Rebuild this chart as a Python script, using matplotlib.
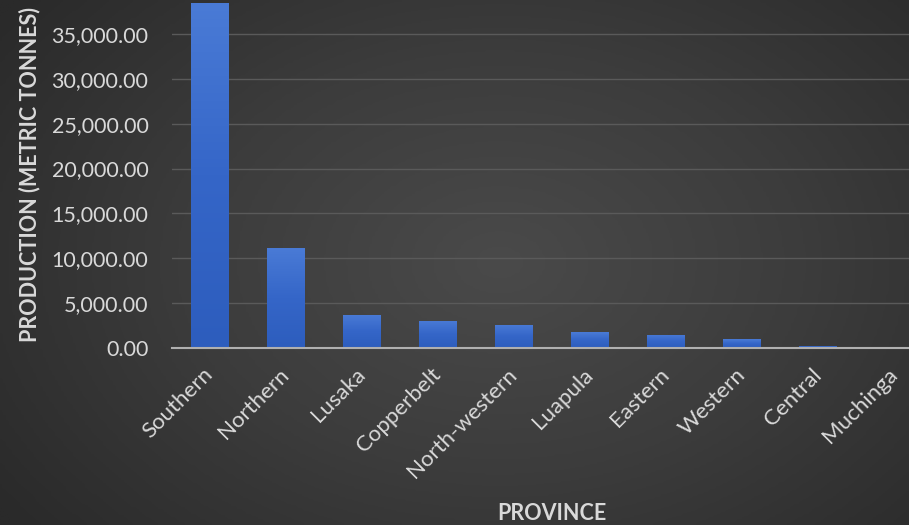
import numpy as np
import matplotlib
matplotlib.use("Agg")
import matplotlib.pyplot as plt
from matplotlib.ticker import FuncFormatter
from matplotlib.colors import LinearSegmentedColormap

provinces = ["Southern", "Northern", "Lusaka", "Copperbelt", "North-western",
             "Luapula", "Eastern", "Western", "Central", "Muchinga"]
production = [38450, 11150, 3680, 3040, 2600, 1750, 1450, 970, 260, 50]
y_ticks = [0, 5000, 10000, 15000, 20000, 25000, 30000, 35000]

plt.rcParams['font.family'] = ['Lato', 'DejaVu Sans']

fig = plt.figure(figsize=(9.09, 5.25), dpi=100)

# background radial gradient
bg = fig.add_axes([0, 0, 1, 1], zorder=0)
yy, xx = np.mgrid[0:1:200j, 0:1:300j]
r = np.sqrt(((xx - 0.55) / 0.75) ** 2 + ((yy - 0.5) / 0.9) ** 2)
bg_cmap = LinearSegmentedColormap.from_list("bg", ["#4a4a4a", "#3c3c3c", "#2a2a2a"])
bg.imshow(r, cmap=bg_cmap, aspect="auto", extent=[0, 1, 0, 1], vmin=0, vmax=0.9)
bg.axis("off")

ax = fig.add_axes([172 / 909, 177 / 525, 760 / 909, 359 / 525], zorder=1)
ax.patch.set_alpha(0)

x = np.arange(len(provinces))
bars = ax.bar(x, production, width=0.5, color="#3a6bcc", zorder=3)

bar_cmap = LinearSegmentedColormap.from_list("bar", ["#2d5dbd", "#3566c8", "#4a7bd6"])
grad = np.linspace(0, 1, 256).reshape(-1, 1)
for b in bars:
    x0, w, h = b.get_x(), b.get_width(), b.get_height()
    im = ax.imshow(grad, cmap=bar_cmap, aspect="auto", origin="lower",
                   extent=[x0, x0 + w, 0, h], zorder=3.5)
    im.set_clip_path(b)

ax.set_xlim(-0.5, len(provinces) - 0.5)
ax.set_ylim(0, 40000)
ax.set_yticks(y_ticks)
ax.yaxis.set_major_formatter(FuncFormatter(lambda v, p: f"{v:,.2f}"))
ax.grid(axis="y", color="#5a5a5a", linewidth=1, zorder=1)
ax.set_axisbelow(True)

for s in ["top", "right", "left"]:
    ax.spines[s].set_visible(False)
ax.spines["bottom"].set_color("#b0b0b0")
ax.spines["bottom"].set_linewidth(1.5)
ax.spines["bottom"].set_zorder(5)

ax.tick_params(axis="both", length=0, colors="#d9d9d9")
ax.tick_params(axis="y", pad=17, labelsize=15.5)
ax.tick_params(axis="x", pad=17, labelsize=16)
ax.set_xticks(x)
ax.set_xticklabels(provinces, rotation=45, ha="right", va="center", rotation_mode="anchor")

fig.text(0.033, 1 - 175 / 525, "PRODUCTION (METRIC TONNES)", rotation=90,
         ha="center", va="center", color="#d9d9d9", fontsize=15.5, fontweight="bold")
fig.text(552 / 909, 1 - 514 / 525, "PROVINCE", ha="center", va="center",
         color="#d9d9d9", fontsize=15.5, fontweight="bold")

fig.savefig("out.png", dpi=100)
